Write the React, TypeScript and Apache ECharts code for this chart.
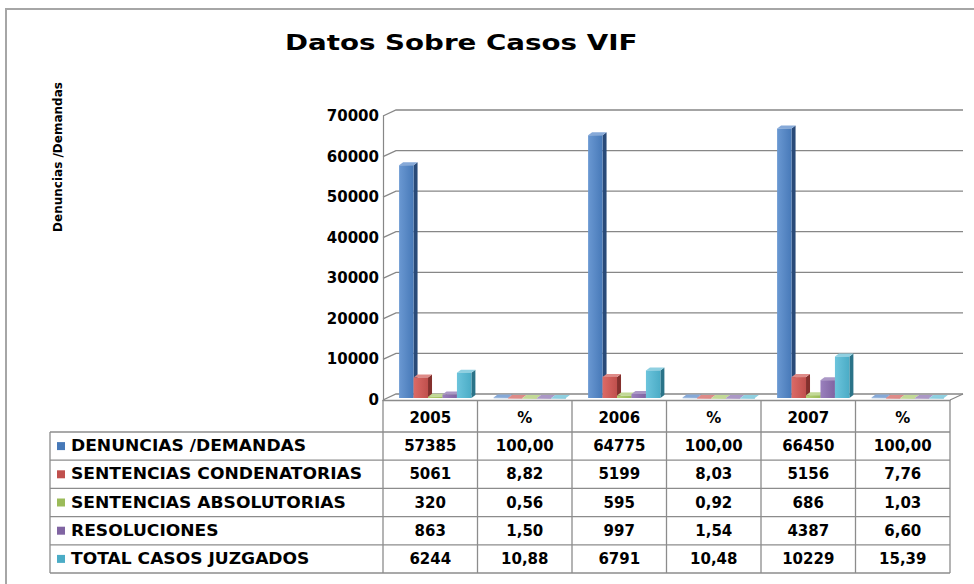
import React, { useEffect, useRef } from 'react';
import * as echarts from 'echarts';

// ---- data ----
const titleText = 'Datos Sobre Casos VIF';
const yAxisTitle = 'Denuncias /Demandas';
const categories = ['2005', '%', '2006', '%', '2007', '%'];
const seriesNames = [
  'DENUNCIAS /DEMANDAS',
  'SENTENCIAS CONDENATORIAS',
  'SENTENCIAS ABSOLUTORIAS',
  'RESOLUCIONES',
  'TOTAL CASOS JUZGADOS',
];
const denuncias = [57385, 100.0, 64775, 100.0, 66450, 100.0];
const condenatorias = [5061, 8.82, 5199, 8.03, 5156, 7.76];
const absolutorias = [320, 0.56, 595, 0.92, 686, 1.03];
const resoluciones = [863, 1.5, 997, 1.54, 4387, 6.6];
const totalJuzgados = [6244, 10.88, 6791, 10.48, 10229, 15.39];
const yTicks = [0, 10000, 20000, 30000, 40000, 50000, 60000, 70000];

const seriesValues = [denuncias, condenatorias, absolutorias, resoluciones, totalJuzgados];

// ---- styles ----
const FONT = '"DejaVu Sans", Verdana, sans-serif';
const GRID_COLOR = '#878787';
const TABLE_LINE = '#8c8c8c';
const palette = [
  { light: '#6a98d2', front: '#4779b8', side: '#294a78', top: '#86a9d8' },
  { light: '#dc6a66', front: '#c0504d', side: '#84302d', top: '#de8b88' },
  { light: '#b2cf74', front: '#9bbb59', side: '#6a8a33', top: '#c2d996' },
  { light: '#9a80bd', front: '#8064a2', side: '#533d78', top: '#ab98c6' },
  { light: '#6cc4dc', front: '#4bacc6', side: '#2a7388', top: '#8fd0e1' },
];
const W = 974;
const H = 584;
const GRID = { left: 383, top: 116, right: 24, bottom: 184 };
const DX = 13; // depth of back wall
const DY = -6;
const HEADER_BOTTOM = 432;
const ROW_H = 28.2;
const LEGEND_LEFT = 50;

const fmt = (v: number, i: number) =>
  i % 2 === 1 ? v.toFixed(2).replace('.', ',') : String(Math.round(v));

function makeBarRender(si: number) {
  return (params: any, api: any) => {
    const cat = api.value(0);
    const v = api.value(1);
    const p = api.coord([cat, v]);
    const p0 = api.coord([cat, 0]);
    const cw = api.size([1, 0])[0];
    const bw = cw * 0.153;
    const x = p[0] + (si - 2.5) * bw + 5;
    const top = p[1] - 2;
    const bot = p0[1] - 2;
    const h = Math.max(bot - top, 0.6);
    const c = palette[si];
    const dx = 4;
    const dy = -3;
    return {
      type: 'group',
      children: [
        {
          type: 'polygon',
          shape: { points: [[x + bw, top], [x + bw + dx, top + dy], [x + bw + dx, bot + dy], [x + bw, bot]] },
          style: { fill: c.side },
        },
        {
          type: 'polygon',
          shape: { points: [[x, top], [x + dx, top + dy], [x + bw + dx, top + dy], [x + bw, top]] },
          style: { fill: c.top },
        },
        {
          type: 'rect',
          shape: { x, y: top, width: bw, height: h },
          style: {
            fill: new echarts.graphic.LinearGradient(0, 0, 1, 0, [
              { offset: 0, color: c.light },
              { offset: 1, color: c.front },
            ]),
          },
        },
      ],
    };
  };
}

function wallRender(params: any, api: any) {
  const cs = params.coordSys;
  const val = api.value(1);
  const y = api.coord([0, val])[1];
  const children: any[] = [
    {
      type: 'polyline',
      shape: { points: [[cs.x, y], [cs.x + DX, y + DY], [cs.x + cs.width + DX, y + DY]] },
      style: { stroke: GRID_COLOR, lineWidth: 1.3, fill: 'none' },
    },
  ];
  if (val === 0) {
    children.push({
      type: 'line',
      shape: { x1: cs.x + cs.width, y1: y, x2: cs.x + cs.width + DX, y2: y + DY },
      style: { stroke: GRID_COLOR, lineWidth: 1.2 },
    });
  }
  return { type: 'group', children };
}

function buildTable(): any[] {
  const els: any[] = [];
  const plotW = W - GRID.left - GRID.right;
  const colW = plotW / categories.length;
  const floorY = H - GRID.bottom;
  const tableBottom = HEADER_BOTTOM + ROW_H * seriesNames.length;
  const lineStyle = { stroke: TABLE_LINE, lineWidth: 1.3 };
  // vertical column lines
  for (let i = 0; i <= categories.length; i++) {
    const x = GRID.left + i * colW;
    els.push({ type: 'line', shape: { x1: x, y1: floorY, x2: x, y2: tableBottom }, style: lineStyle });
  }
  els.push({ type: 'line', shape: { x1: LEGEND_LEFT, y1: HEADER_BOTTOM, x2: LEGEND_LEFT, y2: tableBottom }, style: lineStyle });
  // horizontal row lines
  for (let r = 0; r <= seriesNames.length; r++) {
    const y = HEADER_BOTTOM + r * ROW_H;
    els.push({ type: 'line', shape: { x1: LEGEND_LEFT, y1: y, x2: GRID.left + plotW, y2: y }, style: lineStyle });
  }
  // rows
  seriesNames.forEach((name, r) => {
    const cy = HEADER_BOTTOM + (r + 0.5) * ROW_H;
    els.push({
      type: 'rect',
      shape: { x: LEGEND_LEFT + 7, y: cy - 4, width: 8, height: 8 },
      style: { fill: palette[r].front },
    });
    els.push({
      type: 'text',
      x: LEGEND_LEFT + 21,
      y: cy,
      scaleX: 1.14,
      style: {
        text: name,
        x: 0,
        y: 0,
        fill: '#000',
        fontFamily: FONT,
        fontWeight: 'bold',
        fontSize: 15,
        align: 'left',
        verticalAlign: 'middle',
      },
    });
    seriesValues[r].forEach((v, i) => {
      els.push({
        type: 'text',
        x: GRID.left + (i + 0.5) * colW,
        y: cy,
        style: {
          text: fmt(v, i),
          x: 0,
          y: 0,
          fill: '#000',
          fontFamily: FONT,
          fontWeight: 'bold',
          fontSize: 15,
          align: 'center',
          verticalAlign: 'middle',
        },
      });
    });
  });
  return els;
}

export default function App() {
  const ref = useRef<HTMLDivElement>(null);
  useEffect(() => {
    if (!ref.current) return;
    const chart = echarts.init(ref.current, undefined, { renderer: 'svg' });
    const option: any = {
      animation: false,
      backgroundColor: '#ffffff',
      grid: { left: GRID.left, top: GRID.top, right: GRID.right, bottom: GRID.bottom, containLabel: false },
      xAxis: {
        type: 'category',
        data: categories,
        axisLine: { show: true, lineStyle: { color: TABLE_LINE, width: 1.3 } },
        axisTick: { show: false },
        axisLabel: {
          margin: 10,
          color: '#000',
          fontFamily: FONT,
          fontWeight: 'bold',
          fontSize: 15,
        },
        splitLine: { show: false },
      },
      yAxis: {
        type: 'value',
        min: 0,
        max: 70000,
        interval: 10000,
        axisLine: { show: true, lineStyle: { color: GRID_COLOR, width: 1.2 } },
        axisTick: { show: false },
        axisLabel: {
          margin: 4,
          color: '#000',
          fontFamily: FONT,
          fontWeight: 'bold',
          fontSize: 15,
          formatter: (v: number) => String(v),
        },
        splitLine: { show: false },
      },
      graphic: [
        {
          type: 'rect',
          shape: { x: 6, y: 9, width: 1000, height: 620 },
          style: { fill: 'none', stroke: '#a6a6a6', lineWidth: 2 },
          silent: true,
        },
        {
          type: 'text',
          x: 285,
          y: 43,
          scaleX: 1.32,
          style: {
            text: titleText,
            x: 0,
            y: 0,
            fill: '#000',
            fontFamily: FONT,
            fontWeight: 'bold',
            fontSize: 21,
            align: 'left',
            verticalAlign: 'middle',
          },
        },
        {
          type: 'text',
          x: 58,
          y: 157,
          rotation: Math.PI / 2,
          style: {
            text: yAxisTitle,
            x: 0,
            y: 0,
            fill: '#000',
            fontFamily: FONT,
            fontWeight: 'bold',
            fontSize: 12,
            align: 'center',
            verticalAlign: 'middle',
          },
        },
        ...buildTable(),
      ],
      series: [
        {
          type: 'custom',
          name: 'wall',
          silent: true,
          clip: false,
          renderItem: wallRender,
          data: yTicks.map((v) => [0, v]),
          z: 1,
        },
        ...seriesNames.map((name, si) => ({
          type: 'custom',
          name,
          clip: false,
          renderItem: makeBarRender(si),
          data: seriesValues[si].map((v, i) => [i, v]),
          z: 2,
        })),
      ],
    };
    chart.setOption(option);
    return () => chart.dispose();
  }, []);
  return (
    <div
      ref={ref}
      style={{ position: 'fixed', left: 0, top: 0, width: W, height: H }}
    />
  );
}
